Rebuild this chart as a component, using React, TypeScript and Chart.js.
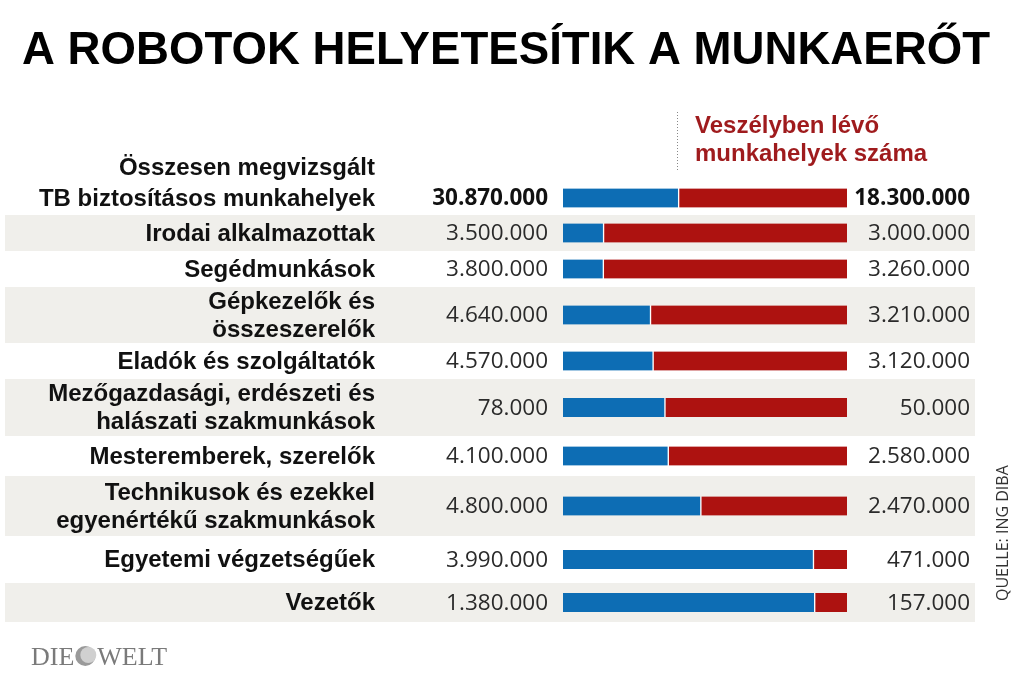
import React, { useEffect, useRef } from 'react';
import { Chart, registerables, CategoryScale } from 'chart.js';

Chart.register(...registerables);

// ---------- data ----------
const categories: string[][] = [
  ['Összesen megvizsgált', 'TB biztosításos munkahelyek'],
  ['Irodai alkalmazottak'],
  ['Segédmunkások'],
  ['Gépkezelők és', 'összeszerelők'],
  ['Eladók és szolgáltatók'],
  ['Mezőgazdasági, erdészeti és', 'halászati szakmunkások'],
  ['Mesteremberek, szerelők'],
  ['Technikusok és ezekkel', 'egyenértékű szakmunkások'],
  ['Egyetemi végzetségűek'],
  ['Vezetők'],
];
const totalJobs = [30870000, 3500000, 3800000, 4640000, 4570000, 78000, 4100000, 4800000, 3990000, 1380000];
const jobsAtRisk = [18300000, 3000000, 3260000, 3210000, 3120000, 50000, 2580000, 2470000, 471000, 157000];

const TITLE = 'A ROBOTOK HELYETESÍTIK A MUNKAERŐT';
const HEADER = ['Veszélyben lévő', 'munkahelyek száma'];
const SOURCE = 'QUELLE: ING DIBA';

// ---------- layout / style ----------
const ROW_HEIGHTS = [34, 36, 36, 56, 36, 57, 40, 60, 47, 39];
const BLUE = '#0d6db4';
const RED = '#ad1210';
const BAND = '#f0efeb';
const LABEL_FONT = 'bold 24px "Liberation Sans", Arial, sans-serif';

const fmt = (n: number) => String(n).replace(/\B(?=(\d{3})+(?!\d))/g, '.');

const safeShare = totalJobs.map((t, i) => ((t - jobsAtRisk[i]) / t) * 100);
const riskShare = totalJobs.map((t, i) => (jobsAtRisk[i] / t) * 100);

class RowScale extends CategoryScale {
  static id = 'rows';
  static defaults = CategoryScale.defaults;
  bandOf(i: number): [number, number] {
    const hs: number[] = (this.options as any).rowHeights;
    const total = hs.reduce((a, b) => a + b, 0);
    const k = this.height / total;
    let acc = 0;
    for (let j = 0; j < i; j++) acc += hs[j];
    return [this.top + acc * k, this.top + (acc + hs[i]) * k];
  }
  getPixelForValue(value: any) {
    const v = typeof value === 'number' ? value : (this as any).parse(value);
    if (v === null || v === undefined || isNaN(v)) return NaN;
    const [a, b] = this.bandOf(Math.round(v));
    return (a + b) / 2;
  }
  getPixelForTick(index: number) {
    return this.getPixelForValue(index);
  }
}
Chart.register(RowScale as any);

const decor = {
  id: 'decor',
  beforeDraw(chart: any) {
    const { ctx } = chart;
    const ys = chart.scales.y as RowScale;
    ctx.save();
    ctx.fillStyle = '#ffffff';
    ctx.fillRect(0, 0, chart.width, chart.height);
    ctx.fillStyle = BAND;
    for (let i = 0; i < categories.length; i++) {
      if (i % 2 === 1) {
        const [a, b] = ys.bandOf(i);
        ctx.fillRect(5, a, 970, b - a);
      }
    }
    ctx.restore();
  },
  afterDraw(chart: any) {
    const { ctx, chartArea } = chart;
    const ys = chart.scales.y as RowScale;
    ctx.save();

    // title
    ctx.fillStyle = '#000';
    ctx.font = 'bold 46px "Liberation Sans", Arial, sans-serif';
    ctx.textBaseline = 'alphabetic';
    ctx.textAlign = 'left';
    const tw = ctx.measureText(TITLE).width;
    ctx.save();
    ctx.translate(22, 64);
    ctx.scale(968 / tw, 1);
    ctx.fillText(TITLE, 0, 0);
    ctx.restore();

    // header
    ctx.fillStyle = '#9f1b1d';
    ctx.font = 'bold 24px "Liberation Sans", Arial, sans-serif';
    ctx.fillText(HEADER[0], 695, 133);
    ctx.fillText(HEADER[1], 695, 161);

    // dotted line
    ctx.strokeStyle = '#888';
    ctx.lineWidth = 1;
    ctx.setLineDash([1, 2]);
    ctx.beginPath();
    ctx.moveTo(677.5, 112);
    ctx.lineTo(677.5, 171);
    ctx.stroke();
    ctx.setLineDash([]);

    // rows
    ctx.textBaseline = 'middle';
    for (let i = 0; i < categories.length; i++) {
      const cy = ys.getPixelForValue(i) + 1;
      const lines = categories[i];
      ctx.textAlign = 'right';
      ctx.fillStyle = '#111';
      ctx.font = LABEL_FONT;
      if (i === 0) {
        ctx.fillText(lines[0], 375, cy - 31);
        ctx.fillText(lines[1], 375, cy);
      } else {
        const lh = 28;
        const start = cy - ((lines.length - 1) * lh) / 2;
        lines.forEach((l, k) => ctx.fillText(l, 375, start + k * lh));
      }
      ctx.fillStyle = i === 0 ? '#111' : '#2a2a2a';
      ctx.font = (i === 0 ? 'bold ' : '') + '22.5px "Open Sans", sans-serif';
      ctx.fillText(fmt(totalJobs[i]), chartArea.left - 15, cy);
      ctx.fillText(fmt(jobsAtRisk[i]), 970, cy);
    }

    // source
    ctx.save();
    ctx.translate(1008, 601);
    ctx.rotate(-Math.PI / 2);
    ctx.textAlign = 'left';
    ctx.textBaseline = 'alphabetic';
    ctx.fillStyle = '#333';
    ctx.font = '16px "Open Sans", sans-serif';
    ctx.fillText(SOURCE, 0, 0);
    ctx.restore();

    // logo
    ctx.textAlign = 'left';
    ctx.textBaseline = 'alphabetic';
    ctx.fillStyle = '#7a7a7a';
    ctx.font = '26px "Liberation Serif", "DejaVu Serif", serif';
    const dieW = ctx.measureText('DIE').width;
    const x0 = 31;
    ctx.fillText('DIE', x0, 665);
    const gx = x0 + dieW + 11;
    ctx.fillText('WELT', gx + 12, 665);
    ctx.beginPath();
    ctx.arc(gx, 656, 10, 0, Math.PI * 2);
    ctx.fillStyle = '#9a9a9a';
    ctx.fill();
    ctx.beginPath();
    ctx.arc(gx + 3, 655, 8, 0, Math.PI * 2);
    ctx.fillStyle = '#d0d0d0';
    ctx.fill();
    ctx.restore();
  },
};

export default function App() {
  const ref = useRef<HTMLCanvasElement | null>(null);
  useEffect(() => {
    if (!ref.current) return;
    const chart = new Chart(ref.current, {
      type: 'bar',
      data: {
        labels: categories.map((c) => c.join(' ')),
        datasets: [
          {
            label: 'Nem veszélyeztetett',
            data: safeShare,
            backgroundColor: BLUE,
            borderColor: '#ffffff',
            borderWidth: { top: 0, right: 1, bottom: 0, left: 0 },
            borderSkipped: false,
            barThickness: 19,
          },
          {
            label: 'Veszélyben lévő',
            data: riskShare,
            backgroundColor: RED,
            borderColor: '#ffffff',
            borderWidth: { top: 0, right: 0, bottom: 0, left: 1 },
            borderSkipped: false,
            barThickness: 19,
          },
        ],
      },
      options: {
        indexAxis: 'y',
        animation: false,
        responsive: false,
        maintainAspectRatio: false,
        layout: { padding: { left: 563, right: 177, top: 181, bottom: 60 } },
        plugins: {
          legend: { display: false },
          title: { display: false },
          tooltip: { enabled: false },
        },
        scales: {
          x: { type: 'linear', stacked: true, min: 0, max: 100, display: false },
          y: { type: 'rows', stacked: true, display: false, rowHeights: ROW_HEIGHTS } as any,
        },
      } as any,
      plugins: [decor],
    });
    return () => chart.destroy();
  }, []);
  return (
    <div style={{ position: 'fixed', left: 0, top: 0, width: 1024, height: 682, background: '#fff' }}>
      <canvas ref={ref} width={1024} height={682} style={{ display: 'block', width: 1024, height: 682 }} />
    </div>
  );
}
